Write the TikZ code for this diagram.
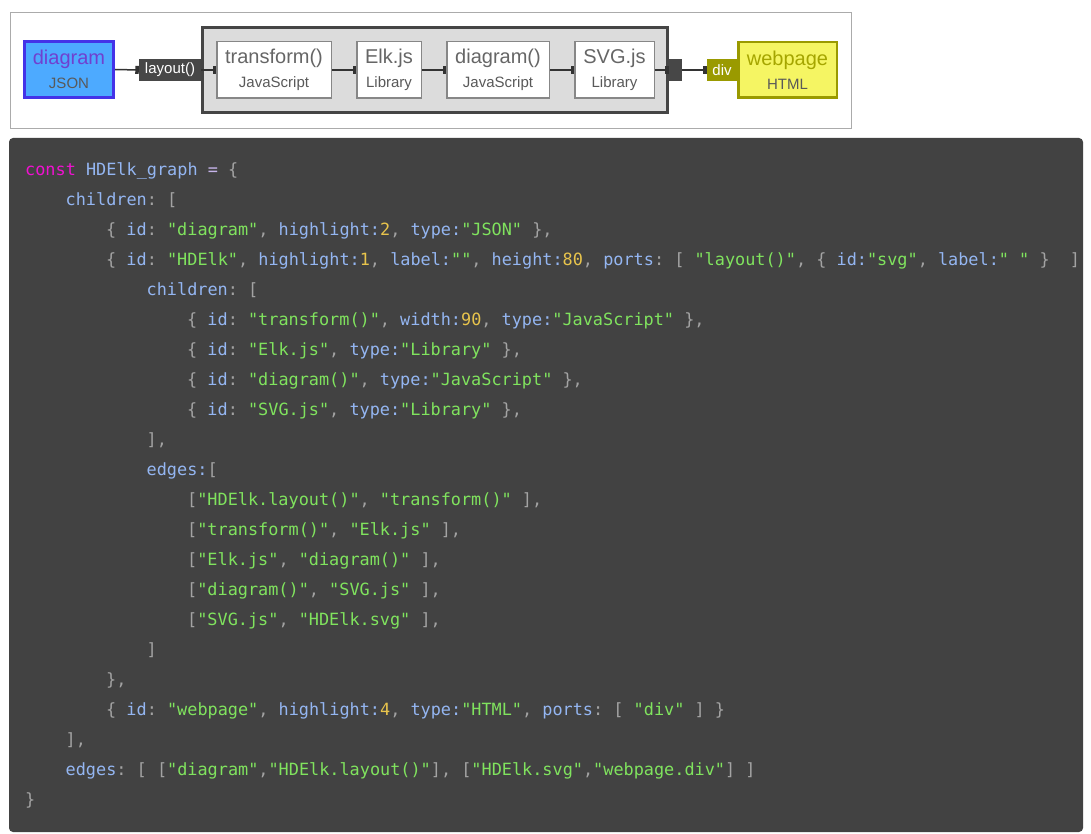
\documentclass[tikz,border=0pt]{standalone}
\usepackage{fontspec}
\setmainfont{Liberation Sans}
\newfontfamily\codefont{DejaVu Sans Mono}[Ligatures=TeXOff]
\usetikzlibrary{arrows.meta}

\definecolor{jsonfill}{HTML}{4DAAFF}
\definecolor{jsonedge}{HTML}{4433E8}
\definecolor{jsontext}{HTML}{7040D0}
\definecolor{htmlfill}{HTML}{F5F563}
\definecolor{htmledge}{HTML}{9A9A00}
\definecolor{htmltext}{HTML}{A5A500}
\definecolor{portdark}{HTML}{474747}
\definecolor{hdelkfill}{HTML}{DCDCDC}
\definecolor{codebg}{HTML}{424242}
\definecolor{kwcol}{HTML}{F011D0}
\definecolor{attrcol}{HTML}{94B6F2}
\definecolor{strcol}{HTML}{80E35E}
\definecolor{numcol}{HTML}{E8C44C}
\definecolor{puncol}{HTML}{A3A3A3}
\definecolor{opcol}{HTML}{C6B4EA}

\newcommand{\cKw}[1]{\textcolor{kwcol}{#1}}
\newcommand{\cAt}[1]{\textcolor{attrcol}{#1}}
\newcommand{\cSt}[1]{\textcolor{strcol}{#1}}
\newcommand{\cNu}[1]{\textcolor{numcol}{#1}}
\newcommand{\cPu}[1]{\textcolor{puncol}{#1}}
\newcommand{\cOp}[1]{\textcolor{opcol}{#1}}
\newcommand{\subtxt}{\fontsize{15}{18}\selectfont\color{black!65}}

\tikzset{
  block/.style={draw=black!47, line width=1.5pt, fill=white, text=black!60,
    minimum height=56.5pt, align=center, inner sep=0pt, font=\fontsize{20}{24}\selectfont},
  port/.style={fill=portdark, text=white, minimum height=22pt, inner sep=0pt,
    font=\fontsize{15}{18}\selectfont},
  edge/.style={draw=black!80, line width=1.5pt, -{Rectangle[length=3.5pt,width=8pt]}},
  codeline/.style={anchor=base west, inner sep=0pt, font=\codefont\fontsize{16.85}{20}\selectfont\frenchspacing}
}

\begin{document}
\begin{tikzpicture}[x=1pt, y=-1pt]
\useasboundingbox (0,0) rectangle (1091,834);

% diagram area
\draw[draw=black!33, fill=white] (10,12) rectangle (851,128);

\node[block, draw=jsonedge, line width=3pt, fill=jsonfill, text=jsontext, minimum width=89pt, minimum height=56pt] (diagram) at (69,69.5) {diagram\\[0pt]{\subtxt JSON}};
\node[port, minimum width=62pt] (layout) at (170,70) {layout()};

\node[draw=black!73, line width=3pt, fill=hdelkfill, minimum width=465pt, minimum height=85pt] (hdelk) at (435,70) {};
\node[block, minimum width=114.5pt] (transform) at (274,70) {transform()\\[0pt]{\subtxt JavaScript}};
\node[block, minimum width=64.5pt] (elk) at (389,70) {Elk.js\\[0pt]{\subtxt Library}};
\node[block, minimum width=102.5pt] (render) at (498,70) {diagram()\\[0pt]{\subtxt JavaScript}};
\node[block, minimum width=79.5pt] (svgjs) at (614.5,70) {SVG.js\\[0pt]{\subtxt Library}};
\node[port, minimum width=13pt] (svg) at (675.5,70) {};

\node[port, fill=htmledge, minimum width=30pt] (div) at (722,70) {div};
\node[block, draw=htmledge, line width=2.5pt, fill=htmlfill, text=htmltext, minimum width=98.5pt, minimum height=55.5pt] (webpage) at (787.5,70) {webpage\\[0pt]{\subtxt HTML}};

\draw[edge] (diagram.east) -- (layout.west);
\draw[edge] (layout.east) -- (transform.west);
\draw[edge] (transform.east) -- (elk.west);
\draw[edge] (elk.east) -- (render.west);
\draw[edge] (render.east) -- (svgjs.west);
\draw[edge] (svgjs.east) -- (svg.west);
\draw[edge] (svg.east) -- (div.west);

% code listing
\fill[codebg, rounded corners=4pt] (9,138) rectangle (1083,832);

\node[codeline] (c1) at (25,175.5) {\cKw{const} \cAt{HDElk\_graph} \cOp{=} \cPu{\{}};
\node[codeline] (c2) at (65.5,205.5) {\cAt{children}\cPu{:} \cPu{[}};
\node[codeline] (c3) at (106,235.5) {\cPu{\{} \cAt{id}\cPu{:} \cSt{"diagram"}\cPu{,} \cAt{highlight:}\cNu{2}\cPu{,} \cAt{type:}\cSt{"JSON"} \cPu{\},}};
\node[codeline] (c4) at (106,265.5) {\cPu{\{} \cAt{id}\cPu{:} \cSt{"HDElk"}\cPu{,} \cAt{highlight:}\cNu{1}\cPu{,} \cAt{label:}\cSt{""}\cPu{,} \cAt{height:}\cNu{80}\cPu{,} \cAt{ports}\cPu{:} \cPu{[} \cSt{"layout()"}\cPu{,} \cPu{\{} \cAt{id:}\cSt{"svg"}\cPu{,} \cAt{label:}\cSt{"\ "} \cPu{\}\ \ ]}};
\node[codeline] (c5) at (146.5,295.5) {\cAt{children}\cPu{:} \cPu{[}};
\node[codeline] (c6) at (187,325.5) {\cPu{\{} \cAt{id}\cPu{:} \cSt{"transform()"}\cPu{,} \cAt{width:}\cNu{90}\cPu{,} \cAt{type:}\cSt{"JavaScript"} \cPu{\},}};
\node[codeline] (c7) at (187,355.5) {\cPu{\{} \cAt{id}\cPu{:} \cSt{"Elk.js"}\cPu{,} \cAt{type:}\cSt{"Library"} \cPu{\},}};
\node[codeline] (c8) at (187,385.5) {\cPu{\{} \cAt{id}\cPu{:} \cSt{"diagram()"}\cPu{,} \cAt{type:}\cSt{"JavaScript"} \cPu{\},}};
\node[codeline] (c9) at (187,415.5) {\cPu{\{} \cAt{id}\cPu{:} \cSt{"SVG.js"}\cPu{,} \cAt{type:}\cSt{"Library"} \cPu{\},}};
\node[codeline] (c10) at (146.5,445.5) {\cPu{],}};
\node[codeline] (c11) at (146.5,475.5) {\cAt{edges:}\cPu{[}};
\node[codeline] (c12) at (187,505.5) {\cPu{[}\cSt{"HDElk.layout()"}\cPu{,} \cSt{"transform()"} \cPu{],}};
\node[codeline] (c13) at (187,535.5) {\cPu{[}\cSt{"transform()"}\cPu{,} \cSt{"Elk.js"} \cPu{],}};
\node[codeline] (c14) at (187,565.5) {\cPu{[}\cSt{"Elk.js"}\cPu{,} \cSt{"diagram()"} \cPu{],}};
\node[codeline] (c15) at (187,595.5) {\cPu{[}\cSt{"diagram()"}\cPu{,} \cSt{"SVG.js"} \cPu{],}};
\node[codeline] (c16) at (187,625.5) {\cPu{[}\cSt{"SVG.js"}\cPu{,} \cSt{"HDElk.svg"} \cPu{],}};
\node[codeline] (c17) at (146.5,655.5) {\cPu{]}};
\node[codeline] (c18) at (106,685.5) {\cPu{\},}};
\node[codeline] (c19) at (106,715.5) {\cPu{\{} \cAt{id}\cPu{:} \cSt{"webpage"}\cPu{,} \cAt{highlight:}\cNu{4}\cPu{,} \cAt{type:}\cSt{"HTML"}\cPu{,} \cAt{ports}\cPu{:} \cPu{[} \cSt{"div"} \cPu{] \}}};
\node[codeline] (c20) at (65.5,745.5) {\cPu{],}};
\node[codeline] (c21) at (65.5,775.5) {\cAt{edges}\cPu{:} \cPu{[ [}\cSt{"diagram"}\cPu{,}\cSt{"HDElk.layout()"}\cPu{], [}\cSt{"HDElk.svg"}\cPu{,}\cSt{"webpage.div"}\cPu{] ]}};
\node[codeline] (c22) at (25,805.5) {\cPu{\}}};

\end{tikzpicture}
\end{document}
